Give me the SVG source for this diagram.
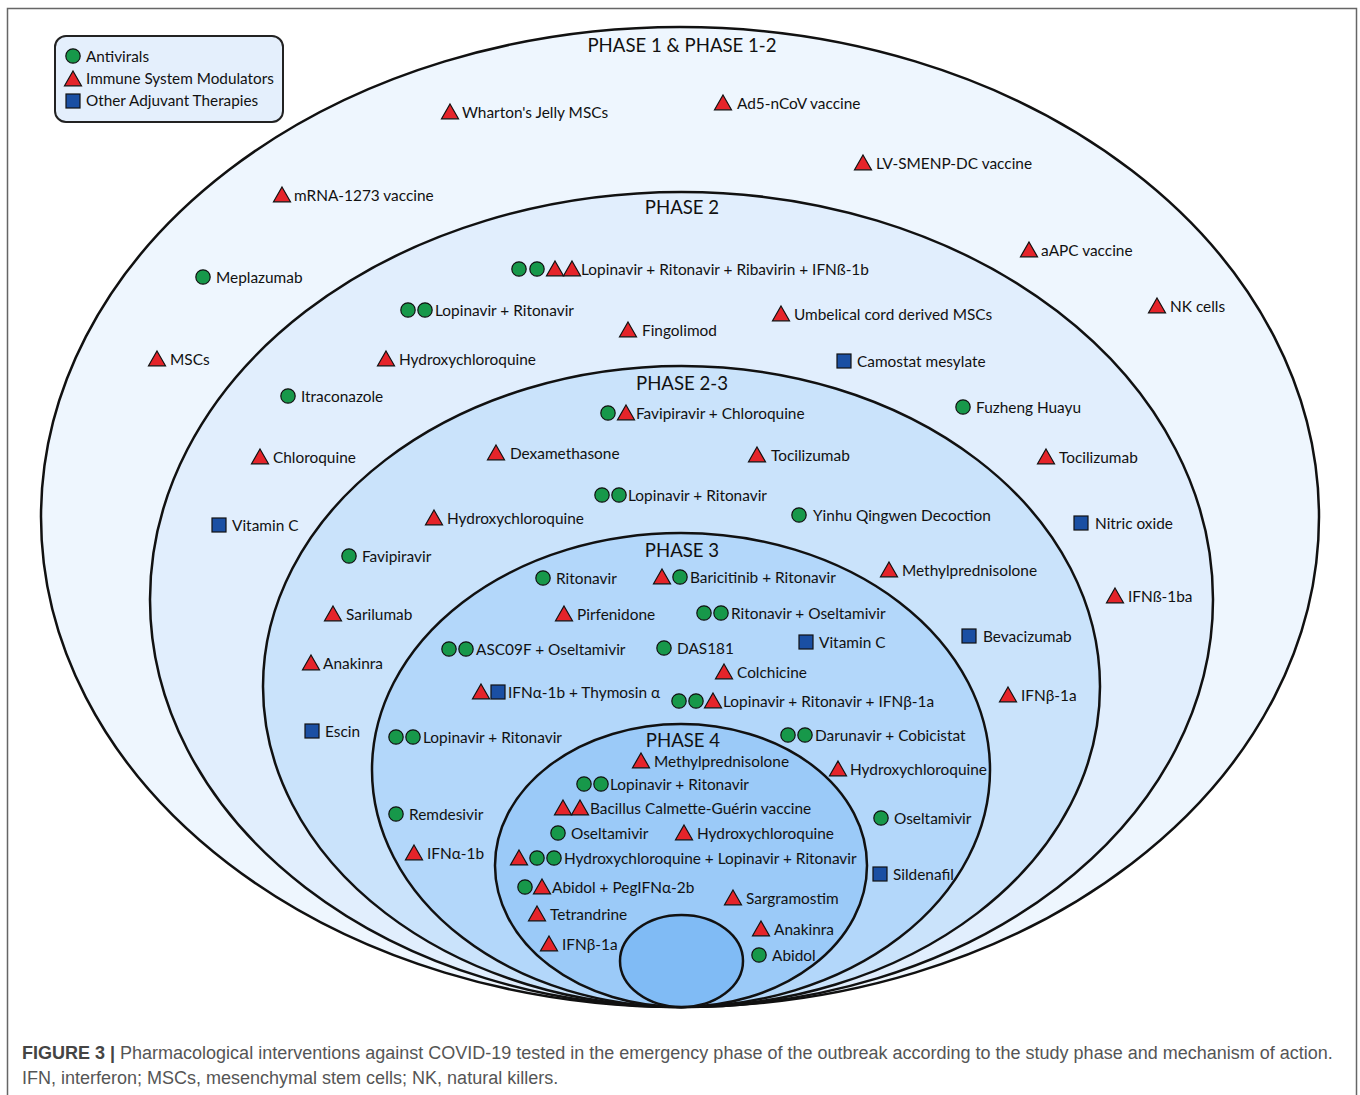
<svg xmlns="http://www.w3.org/2000/svg" width="1360" height="1095" viewBox="0 0 1360 1095">
<style>
.t{font-family:Lato,"Open Sans",sans-serif;font-size:15.4px;fill:#111}
.lg{font-family:Lato,"Open Sans",sans-serif;font-size:15.3px;fill:#111}
.ph{font-family:Lato,"Open Sans",sans-serif;font-size:18.6px;fill:#111;text-anchor:middle}
.el{stroke:#111;stroke-width:2.5}
.cap{font-family:"Liberation Sans",Arial,sans-serif;font-size:18px;fill:#555}
</style>
<defs>
<circle id="c" r="7.2" fill="#17984a" stroke="#111" stroke-width="1.2"/>
<polygon id="t" points="0,-8 8.5,6.8 -8.5,6.8" fill="#e5242a" stroke="#111" stroke-width="1.2"/>
<rect id="s" x="-7" y="-7" width="14" height="14" fill="#1a4fa3" stroke="#111" stroke-width="1.2"/>
</defs>
<rect x="7.5" y="8.5" width="1349" height="1100" fill="#fff" stroke="#666" stroke-width="1.5"/>
<g id="ellipses">
<ellipse class="el" cx="680" cy="517" rx="639" ry="490" fill="#eef6fe"/>
<ellipse class="el" cx="681.5" cy="599.5" rx="531.5" ry="407.5" fill="#e1eefd"/>
<ellipse class="el" cx="681.5" cy="686.5" rx="418.5" ry="320.5" fill="#cae3fb"/>
<ellipse class="el" cx="681" cy="770" rx="309" ry="237" fill="#b3d7fa"/>
<ellipse class="el" cx="681" cy="865.5" rx="186" ry="141.5" fill="#9bcaf8"/>
<ellipse class="el" cx="681.5" cy="961" rx="61.5" ry="46" fill="#80bbf5"/>
</g>
<g id="phase-labels">
<text class="ph" x="682" y="52">PHASE 1 &amp; PHASE 1-2</text>
<text class="ph" x="682" y="214">PHASE 2</text>
<text class="ph" x="682" y="390">PHASE 2-3</text>
<text class="ph" x="682" y="557">PHASE 3</text>
<text class="ph" x="683" y="747">PHASE 4</text>
</g>
<g id="legend">
<rect x="55" y="36" width="228" height="86" rx="11" fill="#e4effc" stroke="#222" stroke-width="2"/>
<use href="#c" x="73" y="56"/><text class="lg" x="86" y="62">Antivirals</text>
<use href="#t" x="73" y="79"/><text class="lg" x="86" y="84">Immune System Modulators</text>
<use href="#s" x="73" y="101"/><text class="lg" x="86" y="106">Other Adjuvant Therapies</text>
</g>
<g id="connectors"></g>
<!-- Phase 1 & 1-2 -->
<g id="p1-wharton"><use href="#t" x="450" y="112"/><text class="t" x="462" y="118">Wharton's Jelly MSCs</text></g>
<g id="p1-ad5"><use href="#t" x="723" y="103"/><text class="t" x="737" y="109">Ad5-nCoV vaccine</text></g>
<g id="p1-lvsmenp"><use href="#t" x="863" y="163"/><text class="t" x="876" y="169">LV-SMENP-DC vaccine</text></g>
<g id="p1-mrna"><use href="#t" x="282" y="195"/><text class="t" x="294" y="201">mRNA-1273 vaccine</text></g>
<g id="p1-meplazumab"><use href="#c" x="203" y="277"/><text class="t" x="216" y="283">Meplazumab</text></g>
<g id="p1-aapc"><use href="#t" x="1029" y="250"/><text class="t" x="1041" y="256">aAPC vaccine</text></g>
<g id="p1-nk"><use href="#t" x="1157" y="306"/><text class="t" x="1170" y="312">NK cells</text></g>
<g id="p1-mscs"><use href="#t" x="157" y="359"/><text class="t" x="170" y="365">MSCs</text></g>
<!-- Phase 2 -->
<g id="p2-lrri"><use href="#c" x="519" y="269"/><use href="#c" x="537" y="269"/><use href="#t" x="555" y="269"/><use href="#t" x="572" y="269"/><text class="t" x="581" y="275">Lopinavir + Ritonavir + Ribavirin + IFNß-1b</text></g>
<g id="p2-lr"><use href="#c" x="408" y="310"/><use href="#c" x="425" y="310"/><text class="t" x="435" y="316">Lopinavir + Ritonavir</text></g>
<g id="p2-fingolimod"><use href="#t" x="628" y="330"/><text class="t" x="642" y="336">Fingolimod</text></g>
<g id="p2-umbilical"><use href="#t" x="781" y="314"/><text class="t" x="794" y="320">Umbelical cord derived MSCs</text></g>
<g id="p2-hcq"><use href="#t" x="386" y="359"/><text class="t" x="399" y="365">Hydroxychloroquine</text></g>
<g id="p2-camostat"><use href="#s" x="844" y="361"/><text class="t" x="857" y="367">Camostat mesylate</text></g>
<g id="p2-itraconazole"><use href="#c" x="288" y="396"/><text class="t" x="301" y="402">Itraconazole</text></g>
<g id="p2-fuzheng"><use href="#c" x="963" y="407"/><text class="t" x="976" y="413">Fuzheng Huayu</text></g>
<g id="p2-chloroquine"><use href="#t" x="260" y="457"/><text class="t" x="273" y="463">Chloroquine</text></g>
<g id="p2-tocilizumab"><use href="#t" x="1046" y="457"/><text class="t" x="1059" y="463">Tocilizumab</text></g>
<g id="p2-vitc"><use href="#s" x="219" y="525"/><text class="t" x="232" y="531">Vitamin C</text></g>
<g id="p2-nitric"><use href="#s" x="1081" y="523"/><text class="t" x="1095" y="529">Nitric oxide</text></g>
<g id="p2-ifnb1ba"><use href="#t" x="1115" y="596"/><text class="t" x="1128" y="602">IFNß-1ba</text></g>
<!-- Phase 2-3 -->
<g id="p23-favchl"><use href="#c" x="608" y="413"/><use href="#t" x="626" y="413"/><text class="t" x="636" y="419">Favipiravir + Chloroquine</text></g>
<g id="p23-dexa"><use href="#t" x="496" y="453"/><text class="t" x="510" y="459">Dexamethasone</text></g>
<g id="p23-toci"><use href="#t" x="757" y="455"/><text class="t" x="771" y="461">Tocilizumab</text></g>
<g id="p23-lr"><use href="#c" x="602" y="495"/><use href="#c" x="619" y="495"/><text class="t" x="628" y="501">Lopinavir + Ritonavir</text></g>
<g id="p23-yinhu"><use href="#c" x="799" y="515"/><text class="t" x="813" y="521">Yinhu Qingwen Decoction</text></g>
<g id="p23-hcq"><use href="#t" x="434" y="518"/><text class="t" x="447" y="524">Hydroxychloroquine</text></g>
<g id="p23-favi"><use href="#c" x="349" y="556"/><text class="t" x="362" y="562">Favipiravir</text></g>
<g id="p23-methyl"><use href="#t" x="889" y="570"/><text class="t" x="902" y="576">Methylprednisolone</text></g>
<g id="p23-sarilumab"><use href="#t" x="333" y="614"/><text class="t" x="346" y="620">Sarilumab</text></g>
<g id="p23-bevacizumab"><use href="#s" x="969" y="636"/><text class="t" x="983" y="642">Bevacizumab</text></g>
<g id="p23-anakinra"><use href="#t" x="311" y="663"/><text class="t" x="323" y="669">Anakinra</text></g>
<g id="p23-ifnb1a"><use href="#t" x="1008" y="695"/><text class="t" x="1021" y="701">IFNβ-1a</text></g>
<g id="p23-escin"><use href="#s" x="312" y="731"/><text class="t" x="325" y="737">Escin</text></g>
<!-- Phase 3 -->
<g id="p3-ritonavir"><use href="#c" x="543" y="578"/><text class="t" x="556" y="584">Ritonavir</text></g>
<g id="p3-baricitinib"><use href="#t" x="662" y="577"/><use href="#c" x="680" y="577"/><text class="t" x="690" y="583">Baricitinib + Ritonavir</text></g>
<g id="p3-pirfenidone"><use href="#t" x="564" y="614"/><text class="t" x="577" y="620">Pirfenidone</text></g>
<g id="p3-ritosel"><use href="#c" x="704" y="613"/><use href="#c" x="721" y="613"/><text class="t" x="731" y="619">Ritonavir + Oseltamivir</text></g>
<g id="p3-asc09f"><use href="#c" x="449" y="649"/><use href="#c" x="466" y="649"/><text class="t" x="476" y="655">ASC09F + Oseltamivir</text></g>
<g id="p3-das181"><use href="#c" x="664" y="648"/><text class="t" x="677" y="654">DAS181</text></g>
<g id="p3-vitc"><use href="#s" x="806" y="642"/><text class="t" x="819" y="648">Vitamin C</text></g>
<g id="p3-colchicine"><use href="#t" x="724" y="672"/><text class="t" x="737" y="678">Colchicine</text></g>
<g id="p3-ifna-thymosin"><use href="#t" x="481" y="692"/><use href="#s" x="498" y="692"/><text class="t" x="508" y="698">IFNα-1b + Thymosin α</text></g>
<g id="p3-lrifnb"><use href="#c" x="679" y="701"/><use href="#c" x="696" y="701"/><use href="#t" x="713" y="701"/><text class="t" x="723" y="707">Lopinavir + Ritonavir + IFNβ-1a</text></g>
<g id="p3-lr"><use href="#c" x="396" y="737"/><use href="#c" x="413" y="737"/><text class="t" x="423" y="743">Lopinavir + Ritonavir</text></g>
<g id="p3-darunavir"><use href="#c" x="788" y="735"/><use href="#c" x="805" y="735"/><text class="t" x="815" y="741">Darunavir + Cobicistat</text></g>
<g id="p3-hcq"><use href="#t" x="838" y="769"/><text class="t" x="850" y="775">Hydroxychloroquine</text></g>
<g id="p3-remdesivir"><use href="#c" x="396" y="814"/><text class="t" x="409" y="820">Remdesivir</text></g>
<g id="p3-ifna1b"><use href="#t" x="414" y="853"/><text class="t" x="427" y="859">IFNα-1b</text></g>
<g id="p3-oseltamivir"><use href="#c" x="881" y="818"/><text class="t" x="894" y="824">Oseltamivir</text></g>
<g id="p3-sildenafil"><use href="#s" x="880" y="874"/><text class="t" x="893" y="880">Sildenafil</text></g>
<!-- Phase 4 -->
<g id="p4-methyl"><use href="#t" x="641" y="761"/><text class="t" x="654" y="767">Methylprednisolone</text></g>
<g id="p4-lr"><use href="#c" x="584" y="784"/><use href="#c" x="601" y="784"/><text class="t" x="610" y="790">Lopinavir + Ritonavir</text></g>
<g id="p4-bcg"><use href="#t" x="563" y="808"/><use href="#t" x="580" y="808"/><text class="t" x="590" y="814">Bacillus Calmette-Guérin vaccine</text></g>
<g id="p4-oseltamivir"><use href="#c" x="558" y="833"/><text class="t" x="571" y="839">Oseltamivir</text></g>
<g id="p4-hcq"><use href="#t" x="684" y="833"/><text class="t" x="697" y="839">Hydroxychloroquine</text></g>
<g id="p4-hcqlr"><use href="#t" x="519" y="858"/><use href="#c" x="537" y="858"/><use href="#c" x="554" y="858"/><text class="t" x="564" y="864">Hydroxychloroquine + Lopinavir + Ritonavir</text></g>
<g id="p4-abidolpeg"><use href="#c" x="525" y="887"/><use href="#t" x="542" y="887"/><text class="t" x="552" y="893">Abidol + PegIFNα-2b</text></g>
<g id="p4-sargramostim"><use href="#t" x="733" y="898"/><text class="t" x="746" y="904">Sargramostim</text></g>
<g id="p4-tetrandrine"><use href="#t" x="537" y="914"/><text class="t" x="550" y="920">Tetrandrine</text></g>
<g id="p4-anakinra"><use href="#t" x="761" y="929"/><text class="t" x="774" y="935">Anakinra</text></g>
<g id="p4-ifnb1a"><use href="#t" x="549" y="944"/><text class="t" x="562" y="950">IFNβ-1a</text></g>
<g id="p4-abidol"><use href="#c" x="759" y="955"/><text class="t" x="772" y="961">Abidol</text></g>
<g id="caption">
<text class="cap" x="22" y="1059"><tspan font-weight="bold" fill="#444">FIGURE 3 |</tspan> Pharmacological interventions against COVID-19 tested in the emergency phase of the outbreak according to the study phase and mechanism of action.</text>
<text class="cap" x="22" y="1084">IFN, interferon; MSCs, mesenchymal stem cells; NK, natural killers.</text>
</g>
</svg>
